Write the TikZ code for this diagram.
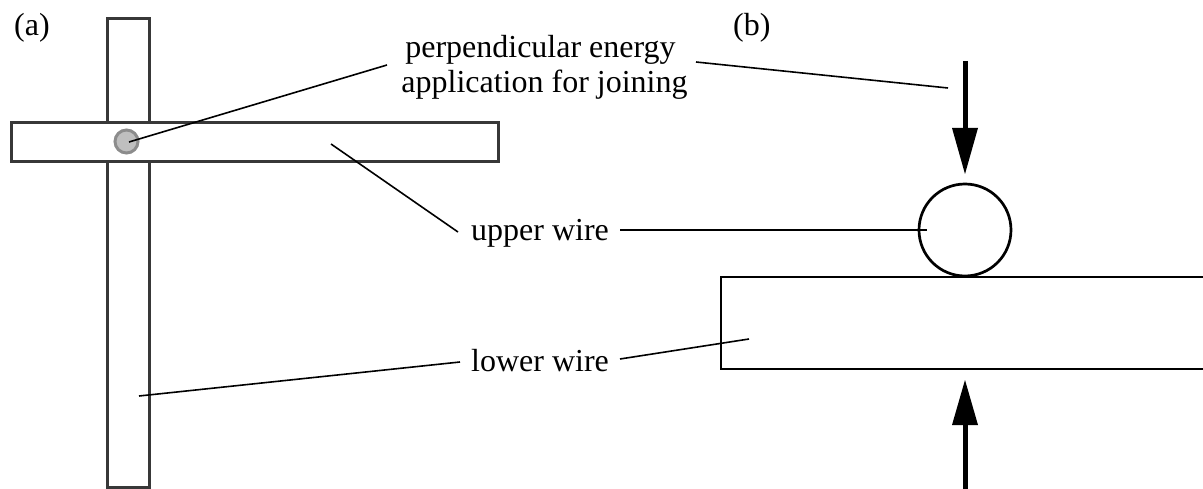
\documentclass[tikz,border=0pt]{standalone}
\usepackage{fontspec}
\setmainfont{Liberation Serif}
\begin{document}
\begin{tikzpicture}[x=1pt,y=-1pt,
  wire/.style={draw=black!78,line width=3pt,fill=white},
  outline/.style={draw=black,line width=2.7pt,fill=white},
  leader/.style={draw=black,line width=1.6pt},
  lbl/.style={inner sep=0pt,font=\fontsize{32}{35}\selectfont,anchor=base},
  force/.style={draw=black,line width=5pt},
  forcehead/.style={fill=black,draw=none}]
\useasboundingbox (0,0) rectangle (1203,489);
\node[wire,minimum width=42pt,minimum height=468pt,inner sep=0pt] (lower a) at (128,253) {};
\node[wire,minimum width=487pt,minimum height=39pt,inner sep=0pt] (upper a) at (254.5,142.5) {};
\node[circle,draw=black!45,fill=black!25,line width=3pt,minimum size=23pt,inner sep=0pt] (spot) at (126.5,141.5) {};
\coordinate (spot end) at (129,142);
\coordinate (upper a end) at (331,144);
\coordinate (lower a end) at (139,396);
\coordinate (joint end) at (948,88);
\coordinate (upper b end) at (927,230);
\coordinate (lower b end) at (749,339);
\node[lbl,anchor=base west] (a) at (14,36) {(a)};
\node[lbl,anchor=base west] (b) at (733,36) {(b)};
\node[lbl] (title one) at (540.5,57.5) {perpendicular energy};
\node[lbl] (title two) at (544.5,93) {application for joining};
\node[lbl] (upper) at (540,240.5) {upper wire};
\node[lbl] (lower) at (540,371) {lower wire};
\coordinate (title l) at (387,65);
\coordinate (title r) at (696,62);
\coordinate (upper l) at (458,232);
\coordinate (upper r) at (620,230);
\coordinate (lower l) at (460,362);
\coordinate (lower r) at (620,359);
% panel b
\path[outline] (1205,277) -- (721,277) -- (721,369) -- (1205,369);
\node[circle,outline,minimum size=92pt,inner sep=0pt] (wire b) at (965,230) {};
\draw[leader] (title l) -- (spot end);
\draw[leader] (title r) -- (joint end);
\draw[leader] (upper a end) -- (upper l);
\draw[leader] (upper r) -- (upper b end);
\draw[leader] (lower l) -- (lower a end);
\draw[leader] (lower r) -- (lower b end);
% arrows
\coordinate (top start) at (965,61);
\coordinate (top neck) at (965,129);
\coordinate (bot start) at (965,489);
\coordinate (bot neck) at (965,425);
\draw[force] (top start) -- (top neck);
\draw[force] (bot start) -- (bot neck);
\path[forcehead] (952,128) -- (978,128) -- (965,174) -- cycle;
\path[forcehead] (952,425) -- (978,425) -- (965,380) -- cycle;
\end{tikzpicture}
\end{document}
